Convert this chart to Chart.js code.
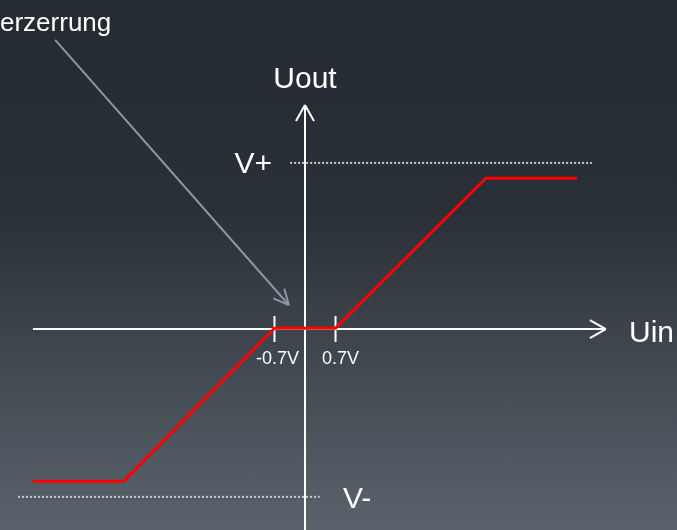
<!DOCTYPE html>
<html>
<head>
<meta charset="utf-8">
<script src="https://cdn.jsdelivr.net/npm/chart.js@4/dist/chart.umd.min.js"></script>
<style>
  html, body { margin: 0; padding: 0; }
  #wrap {
    width: 677px; height: 530px;
    background: linear-gradient(to bottom, #252b32 0%, #2a3038 40%, #5a636c 100%);
  }
</style>
</head>
<body>
<div id="wrap"><canvas id="chart" width="677" height="530"></canvas></div>
<script>
// transfer curve of the push-pull stage (Uin in V, Uout in V)
var uin  = [-6.24, -4.15, -0.7, 0.7, 4.15, 6.24];
var uout = [-3.49, -3.49, 0.02, 0.02, 3.46, 3.46];

// supply rails
var vPlus  = 3.81;
var vMinus = -3.85;
var vPlusRange  = [-0.34, 6.58];
var vMinusRange = [-6.58, 0.34];

// marked thresholds on the Uin axis
var tickVals   = [-0.7, 0.7];
var tickLabels = ['-0.7V', '0.7V'];

var pts = uin.map(function (x, i) { return { x: x, y: uout[i] }; });

var FONT = '"Liberation Sans", Arial, sans-serif';

function line(ctx, x1, y1, x2, y2) {
    ctx.beginPath();
    ctx.moveTo(x1, y1);
    ctx.lineTo(x2, y2);
    ctx.stroke();
}

var axesPlugin = {
    id: 'axes',
    beforeDatasetsDraw: function (chart) {
        var ctx = chart.ctx, xs = chart.scales.x, ys = chart.scales.y;
        var x0 = xs.getPixelForValue(0), y0 = ys.getPixelForValue(0);
        ctx.save();
        ctx.strokeStyle = '#ffffff';
        ctx.lineWidth = 2;
        // Uin axis
        var xl = xs.getPixelForValue(-6.24), xr = xs.getPixelForValue(6.9);
        line(ctx, xl, y0, xr, y0);
        line(ctx, xr - 16, y0 - 9, xr, y0);
        line(ctx, xr - 16, y0 + 9, xr, y0);
        // Uout axis
        var yt = ys.getPixelForValue(5.14);
        line(ctx, x0, chart.height, x0, yt);
        line(ctx, x0 - 9, yt + 16, x0, yt);
        line(ctx, x0 + 9, yt + 16, x0, yt);
        // threshold ticks
        tickVals.forEach(function (v) {
            var px = xs.getPixelForValue(v);
            line(ctx, px, y0 - 13, px, y0 + 13);
        });
        ctx.restore();
    },
    afterDatasetsDraw: function (chart) {
        var ctx = chart.ctx, xs = chart.scales.x, ys = chart.scales.y;
        var x0 = xs.getPixelForValue(0), y0 = ys.getPixelForValue(0);
        ctx.save();
        // annotation arrow
        var ax = xs.getPixelForValue(-5.73), ay = ys.getPixelForValue(6.63);
        var bx = xs.getPixelForValue(-0.37), by = ys.getPixelForValue(0.55);
        ctx.strokeStyle = '#8c97a3';
        ctx.lineWidth = 2;
        line(ctx, ax, ay, bx, by);
        var ang = Math.atan2(by - ay, bx - ax);
        [0.45, -0.45].forEach(function (d) {
            line(ctx, bx, by, bx - 17 * Math.cos(ang + d), by - 17 * Math.sin(ang + d));
        });

        ctx.fillStyle = '#ffffff';
        ctx.textBaseline = 'alphabetic';
        ctx.font = '26px ' + FONT;
        ctx.textAlign = 'left';
        ctx.fillText('erzerrung', 0, 31);

        ctx.font = '30px ' + FONT;
        ctx.textAlign = 'center';
        ctx.fillText('Uout', x0, 88);
        ctx.textAlign = 'left';
        ctx.fillText('Uin', 629, y0 + 13);
        ctx.textAlign = 'right';
        ctx.fillText('V+', 272, ys.getPixelForValue(vPlus) + 10);
        ctx.textAlign = 'left';
        ctx.fillText('V-', 343, ys.getPixelForValue(vMinus) + 11);

        ctx.font = '18px ' + FONT;
        ctx.textAlign = 'center';
        tickLabels.forEach(function (t, i) {
            var px = xs.getPixelForValue(tickVals[i]);
            ctx.fillText(t, px + (i === 0 ? 3 : 5), y0 + 35);
        });
        ctx.restore();
    }
};

new Chart(document.getElementById('chart'), {
    type: 'line',
    data: {
        datasets: [
            {
                data: [{ x: vPlusRange[0], y: vPlus }, { x: vPlusRange[1], y: vPlus }],
                borderColor: '#c9ced3',
                borderWidth: 2,
                borderDash: [2, 2],
                pointRadius: 0
            },
            {
                data: [{ x: vMinusRange[0], y: vMinus }, { x: vMinusRange[1], y: vMinus }],
                borderColor: '#c9ced3',
                borderWidth: 2,
                borderDash: [2, 2],
                pointRadius: 0
            },
            {
                data: pts,
                borderColor: '#ff0000',
                borderWidth: 3,
                pointRadius: 0,
                tension: 0
            }
        ]
    },
    options: {
        responsive: false,
        animation: false,
        layout: { padding: 0 },
        plugins: { legend: { display: false }, tooltip: { enabled: false } },
        scales: {
            x: { type: 'linear', display: false, min: -6.995, max: 8.532 },
            y: { type: 'linear', display: false, min: -4.61, max: 7.546 }
        }
    },
    plugins: [axesPlugin]
});
</script>
</body>
</html>
